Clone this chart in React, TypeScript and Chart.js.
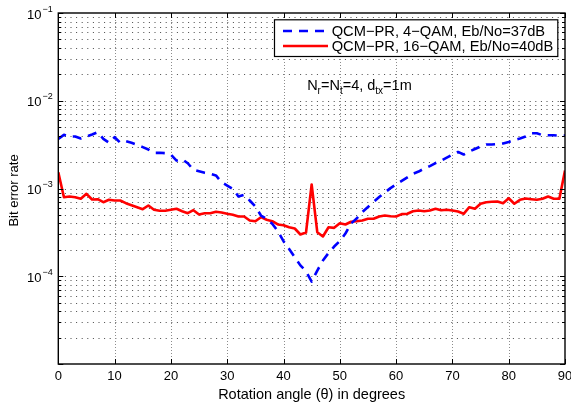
import React, { useEffect, useRef } from "react";
import { Chart, registerables } from "chart.js";

Chart.register(...registerables);

const angles = [
  0, 1, 2, 3, 4, 5, 6, 7, 8, 9, 10, 11, 12, 13, 14, 15, 16, 17, 18, 19, 20,
  21, 22, 23, 24, 25, 26, 27, 28, 29, 30, 31, 32, 33, 34, 35, 36, 37, 38, 39, 40,
  41, 42, 43, 44, 45, 46, 47, 48, 49, 50, 51, 52, 53, 54, 55, 56, 57, 58, 59, 60,
  61, 62, 63, 64, 65, 66, 67, 68, 69, 70, 71, 72, 73, 74, 75, 76, 77, 78, 79, 80,
  81, 82, 83, 84, 85, 86, 87, 88, 89, 90,
];

const ber4qam = [
  3.68e-3, 4.09e-3, 3.91e-3, 3.91e-3, 3.71e-3, 3.91e-3, 4.12e-3, 4.38e-3, 3.68e-3, 3.32e-3,
  3.84e-3, 3.32e-3, 3.46e-3, 3.32e-3, 3.15e-3, 2.96e-3, 2.78e-3, 2.55e-3, 2.55e-3, 2.53e-3,
  2.44e-3, 2.08e-3, 2.16e-3, 1.94e-3, 1.63e-3, 1.57e-3, 1.51e-3, 1.47e-3, 1.41e-3, 1.18e-3,
  1.08e-3, 0.99e-3, 8.1e-4, 8.47e-4, 7.3e-4, 6.23e-4, 4.92e-4, 4.52e-4, 3.96e-4, 3.26e-4,
  2.51e-4, 2.05e-4, 1.65e-4, 1.33e-4, 1.14e-4, 8.67e-5, 1.16e-4, 1.51e-4, 1.84e-4, 2.18e-4,
  2.52e-4, 3.07e-4, 3.99e-4, 4.55e-4, 5.4e-4, 6.15e-4, 7.02e-4, 8.0e-4, 9.0e-4, 1.01e-3,
  1.11e-3, 1.22e-3, 1.34e-3, 1.47e-3, 1.56e-3, 1.69e-3, 1.8e-3, 1.95e-3, 2.08e-3, 2.25e-3,
  2.44e-3, 2.61e-3, 2.44e-3, 2.64e-3, 2.82e-3, 3.01e-3, 3.17e-3, 3.17e-3, 3.21e-3, 3.26e-3,
  3.39e-3, 3.57e-3, 3.71e-3, 3.91e-3, 4.26e-3, 4.26e-3, 4.05e-3, 4.05e-3, 4.05e-3, 4.0e-3,
  4.0e-3,
];

const ber16qam = [
  1.53e-3, 7.96e-4, 8.1e-4, 7.96e-4, 7.63e-4, 8.7e-4, 7.5e-4, 7.55e-4, 6.98e-4, 7.43e-4,
  7.3e-4, 7.3e-4, 6.8e-4, 6.45e-4, 6.12e-4, 5.81e-4, 6.4e-4, 5.72e-4, 5.57e-4, 5.57e-4,
  5.72e-4, 5.88e-4, 5.51e-4, 5.23e-4, 5.66e-4, 5.06e-4, 5.23e-4, 5.23e-4, 5.43e-4, 5.33e-4,
  5.15e-4, 5.01e-4, 4.8e-4, 4.8e-4, 4.32e-4, 4.24e-4, 4.71e-4, 4.4e-4, 4.24e-4, 3.89e-4,
  3.82e-4, 3.62e-4, 3.5e-4, 2.99e-4, 3.15e-4, 1.11e-3, 3.18e-4, 2.84e-4, 3.62e-4, 3.56e-4,
  4.02e-4, 3.89e-4, 4.18e-4, 4.24e-4, 4.32e-4, 4.52e-4, 4.52e-4, 4.8e-4, 4.92e-4, 4.83e-4,
  4.8e-4, 5.1e-4, 5.15e-4, 5.51e-4, 5.61e-4, 5.51e-4, 5.61e-4, 5.88e-4, 5.66e-4, 5.72e-4,
  5.61e-4, 5.47e-4, 5.15e-4, 6.12e-4, 5.88e-4, 6.7e-4, 6.98e-4, 7.05e-4, 7.11e-4, 6.8e-4,
  7.75e-4, 6.7e-4, 7.43e-4, 7.69e-4, 7.55e-4, 7.43e-4, 7.63e-4, 8.1e-4, 7.63e-4, 7.63e-4,
  1.6e-3,
];

const seriesLabels = [
  "QCM\u2212PR, 4\u2212QAM, Eb/No=37dB",
  "QCM\u2212PR, 16\u2212QAM, Eb/No=40dB",
];

const xTickValues = [0, 10, 20, 30, 40, 50, 60, 70, 80, 90];
const yDecadeExponents = [-5, -4, -3, -2, -1];
const yLabelExponents = [-1, -2, -3, -4];
const yMinorMultipliers = [2, 3, 4, 5, 6, 7, 8, 9];

const xTitle = "Rotation angle (\u03b8) in degrees";
const yTitle = "Bit error rate";
const annotationParts = [
  { t: "N", sub: false },
  { t: "r", sub: true },
  { t: "=N", sub: false },
  { t: "t", sub: true },
  { t: "=4, d", sub: false },
  { t: "tx", sub: true },
  { t: "=1m", sub: false },
];
const annotationAt = { x: 44.2, y: 1.33e-2 };

const FONT = '"Liberation Sans", Arial, Helvetica, sans-serif';
const DASH = [9, 7];

const decorPlugin = {
  id: "matlabDecor",
  beforeDatasetsDraw(chart: any) {
    const { ctx, chartArea: a, scales } = chart;
    const x = scales.x;
    const y = scales.y;
    ctx.save();
    ctx.lineWidth = 1;
    // horizontal log grid
    ctx.strokeStyle = "#4a4a4a";
    ctx.setLineDash([1, 4.6]);
    for (const e of yDecadeExponents) {
      const base = Math.pow(10, e);
      const mults = [1, ...yMinorMultipliers];
      for (const m of mults) {
        const v = m * base;
        if (v <= y.min * 1.0001 || v >= y.max * 0.9999) continue;
        const py = Math.round(y.getPixelForValue(v)) + 0.5;
        ctx.beginPath();
        ctx.moveTo(a.left + 1, py);
        ctx.lineTo(a.right - 1, py);
        ctx.stroke();
      }
    }
    // vertical grid
    ctx.strokeStyle = "#8c8c8c";
    ctx.setLineDash([1, 2]);
    for (const t of xTickValues) {
      if (t <= x.min || t >= x.max) continue;
      const px = Math.round(x.getPixelForValue(t)) + 0.5;
      ctx.beginPath();
      ctx.moveTo(px, a.top + 1);
      ctx.lineTo(px, a.bottom - 1);
      ctx.stroke();
    }
    ctx.restore();
  },
  afterDatasetsDraw(chart: any) {
    const { ctx, chartArea: a, scales } = chart;
    const x = scales.x;
    const y = scales.y;
    ctx.save();
    ctx.setLineDash([]);
    ctx.strokeStyle = "#000";
    ctx.fillStyle = "#000";

    // ticks (inside)
    ctx.lineWidth = 1;
    for (const t of xTickValues) {
      const px = Math.round(x.getPixelForValue(t)) + 0.5;
      ctx.beginPath();
      ctx.moveTo(px, a.bottom);
      ctx.lineTo(px, a.bottom - 5);
      ctx.moveTo(px, a.top);
      ctx.lineTo(px, a.top + 5);
      ctx.stroke();
    }
    for (const e of yDecadeExponents) {
      const base = Math.pow(10, e);
      const mults = [1, ...yMinorMultipliers];
      for (const m of mults) {
        const v = m * base;
        if (v > y.max * 1.0001) continue;
        const py = Math.round(y.getPixelForValue(v)) + 0.5;
        const len = m === 1 ? 5 : 3;
        ctx.beginPath();
        ctx.moveTo(a.left, py);
        ctx.lineTo(a.left + len, py);
        ctx.moveTo(a.right, py);
        ctx.lineTo(a.right - len, py);
        ctx.stroke();
      }
    }

    // frame
    ctx.lineWidth = 1.4;
    ctx.strokeRect(a.left, a.top, a.right - a.left, a.bottom - a.top);

    // x tick labels
    ctx.font = `13px ${FONT}`;
    ctx.textAlign = "center";
    ctx.textBaseline = "alphabetic";
    for (const t of xTickValues) {
      ctx.fillText(String(t), x.getPixelForValue(t), a.bottom + 16);
    }

    // y tick labels 10^e
    for (const e of yLabelExponents) {
      const py = y.getPixelForValue(Math.pow(10, e));
      const sup = "\u2212" + String(Math.abs(e));
      ctx.font = `9px ${FONT}`;
      const supW = ctx.measureText(sup).width;
      const right = a.left - 5.5;
      ctx.textAlign = "left";
      ctx.fillText(sup, right - supW, py - 1.5);
      ctx.font = `13px ${FONT}`;
      ctx.textAlign = "right";
      ctx.fillText("10", right - supW - 1, py + 5.5);
    }

    // axis titles
    ctx.font = `14.5px ${FONT}`;
    ctx.textAlign = "center";
    ctx.fillText(xTitle, (a.left + a.right) / 2, a.bottom + 35);
    ctx.save();
    ctx.translate(18, (a.top + a.bottom) / 2 + 2);
    ctx.rotate(-Math.PI / 2);
    ctx.font = `13px ${FONT}`;
    ctx.fillText(yTitle, 0, 0);
    ctx.restore();

    // annotation with subscripts
    {
      let ax = x.getPixelForValue(annotationAt.x);
      const ay = y.getPixelForValue(annotationAt.y);
      ctx.textAlign = "left";
      for (const p of annotationParts) {
        ctx.font = p.sub ? `10px ${FONT}` : `14.5px ${FONT}`;
        ctx.fillText(p.t, ax, p.sub ? ay + 4 : ay);
        ax += ctx.measureText(p.t).width;
      }
    }

    // legend
    {
      const bx = 274;
      const by = a.top + 6.3;
      const bw = a.right - 7.7 - bx;
      const bh = 36.7;
      ctx.fillStyle = "#fff";
      ctx.fillRect(bx, by, bw, bh);
      ctx.lineWidth = 1.2;
      ctx.strokeStyle = "#000";
      ctx.strokeRect(bx + 0.5, by + 0.5, bw, bh);
      ctx.font = `14.7px ${FONT}`;
      ctx.textAlign = "left";
      chart.data.datasets.forEach((ds: any, i: number) => {
        const ly = by + 11.7 + i * 15;
        ctx.strokeStyle = ds.borderColor;
        ctx.lineWidth = ds.borderWidth;
        ctx.setLineDash(ds.borderDash || []);
        ctx.beginPath();
        ctx.moveTo(bx + 9, ly);
        ctx.lineTo(bx + 54, ly);
        ctx.stroke();
        ctx.setLineDash([]);
        ctx.fillStyle = "#000";
        ctx.fillText(ds.label, bx + 57.7, ly + 5);
      });
    }
    ctx.restore();
  },
};

export default function App() {
  const ref = useRef<HTMLCanvasElement | null>(null);
  useEffect(() => {
    if (!ref.current) return;
    const chart = new Chart(ref.current, {
      type: "line",
      data: {
        datasets: [
          {
            label: seriesLabels[0],
            data: angles.map((a, i) => ({ x: a, y: ber4qam[i] })),
            borderColor: "#0000ff",
            borderWidth: 2.6,
            borderDash: DASH,
            pointRadius: 0,
            tension: 0,
            borderJoinStyle: "round",
            fill: false,
          },
          {
            label: seriesLabels[1],
            data: angles.map((a, i) => ({ x: a, y: ber16qam[i] })),
            borderColor: "#ff0000",
            borderWidth: 2.6,
            pointRadius: 0,
            tension: 0,
            borderJoinStyle: "round",
            fill: false,
          },
        ],
      },
      options: {
        animation: false,
        responsive: false,
        devicePixelRatio: 1,
        layout: { padding: { top: 13, right: 6, left: 0, bottom: 0 } },
        plugins: { legend: { display: false }, tooltip: { enabled: false } },
        scales: {
          x: {
            type: "linear",
            min: 0,
            max: 90,
            grid: { display: false },
            border: { display: false },
            ticks: { display: false },
            afterFit: (s: any) => {
              s.height = 44;
            },
          },
          y: {
            type: "logarithmic",
            min: 1e-5,
            max: 1e-1,
            grid: { display: false },
            border: { display: false },
            ticks: { display: false },
            afterFit: (s: any) => {
              s.width = 58.3;
            },
          },
        },
      },
      plugins: [decorPlugin],
    } as any);
    return () => chart.destroy();
  }, []);
  return (
    <div style={{ position: "fixed", left: 0, top: 0, width: 571, height: 408, background: "#fff" }}>
      <canvas ref={ref} width={571} height={408} style={{ width: 571, height: 408, display: "block" }} />
    </div>
  );
}
